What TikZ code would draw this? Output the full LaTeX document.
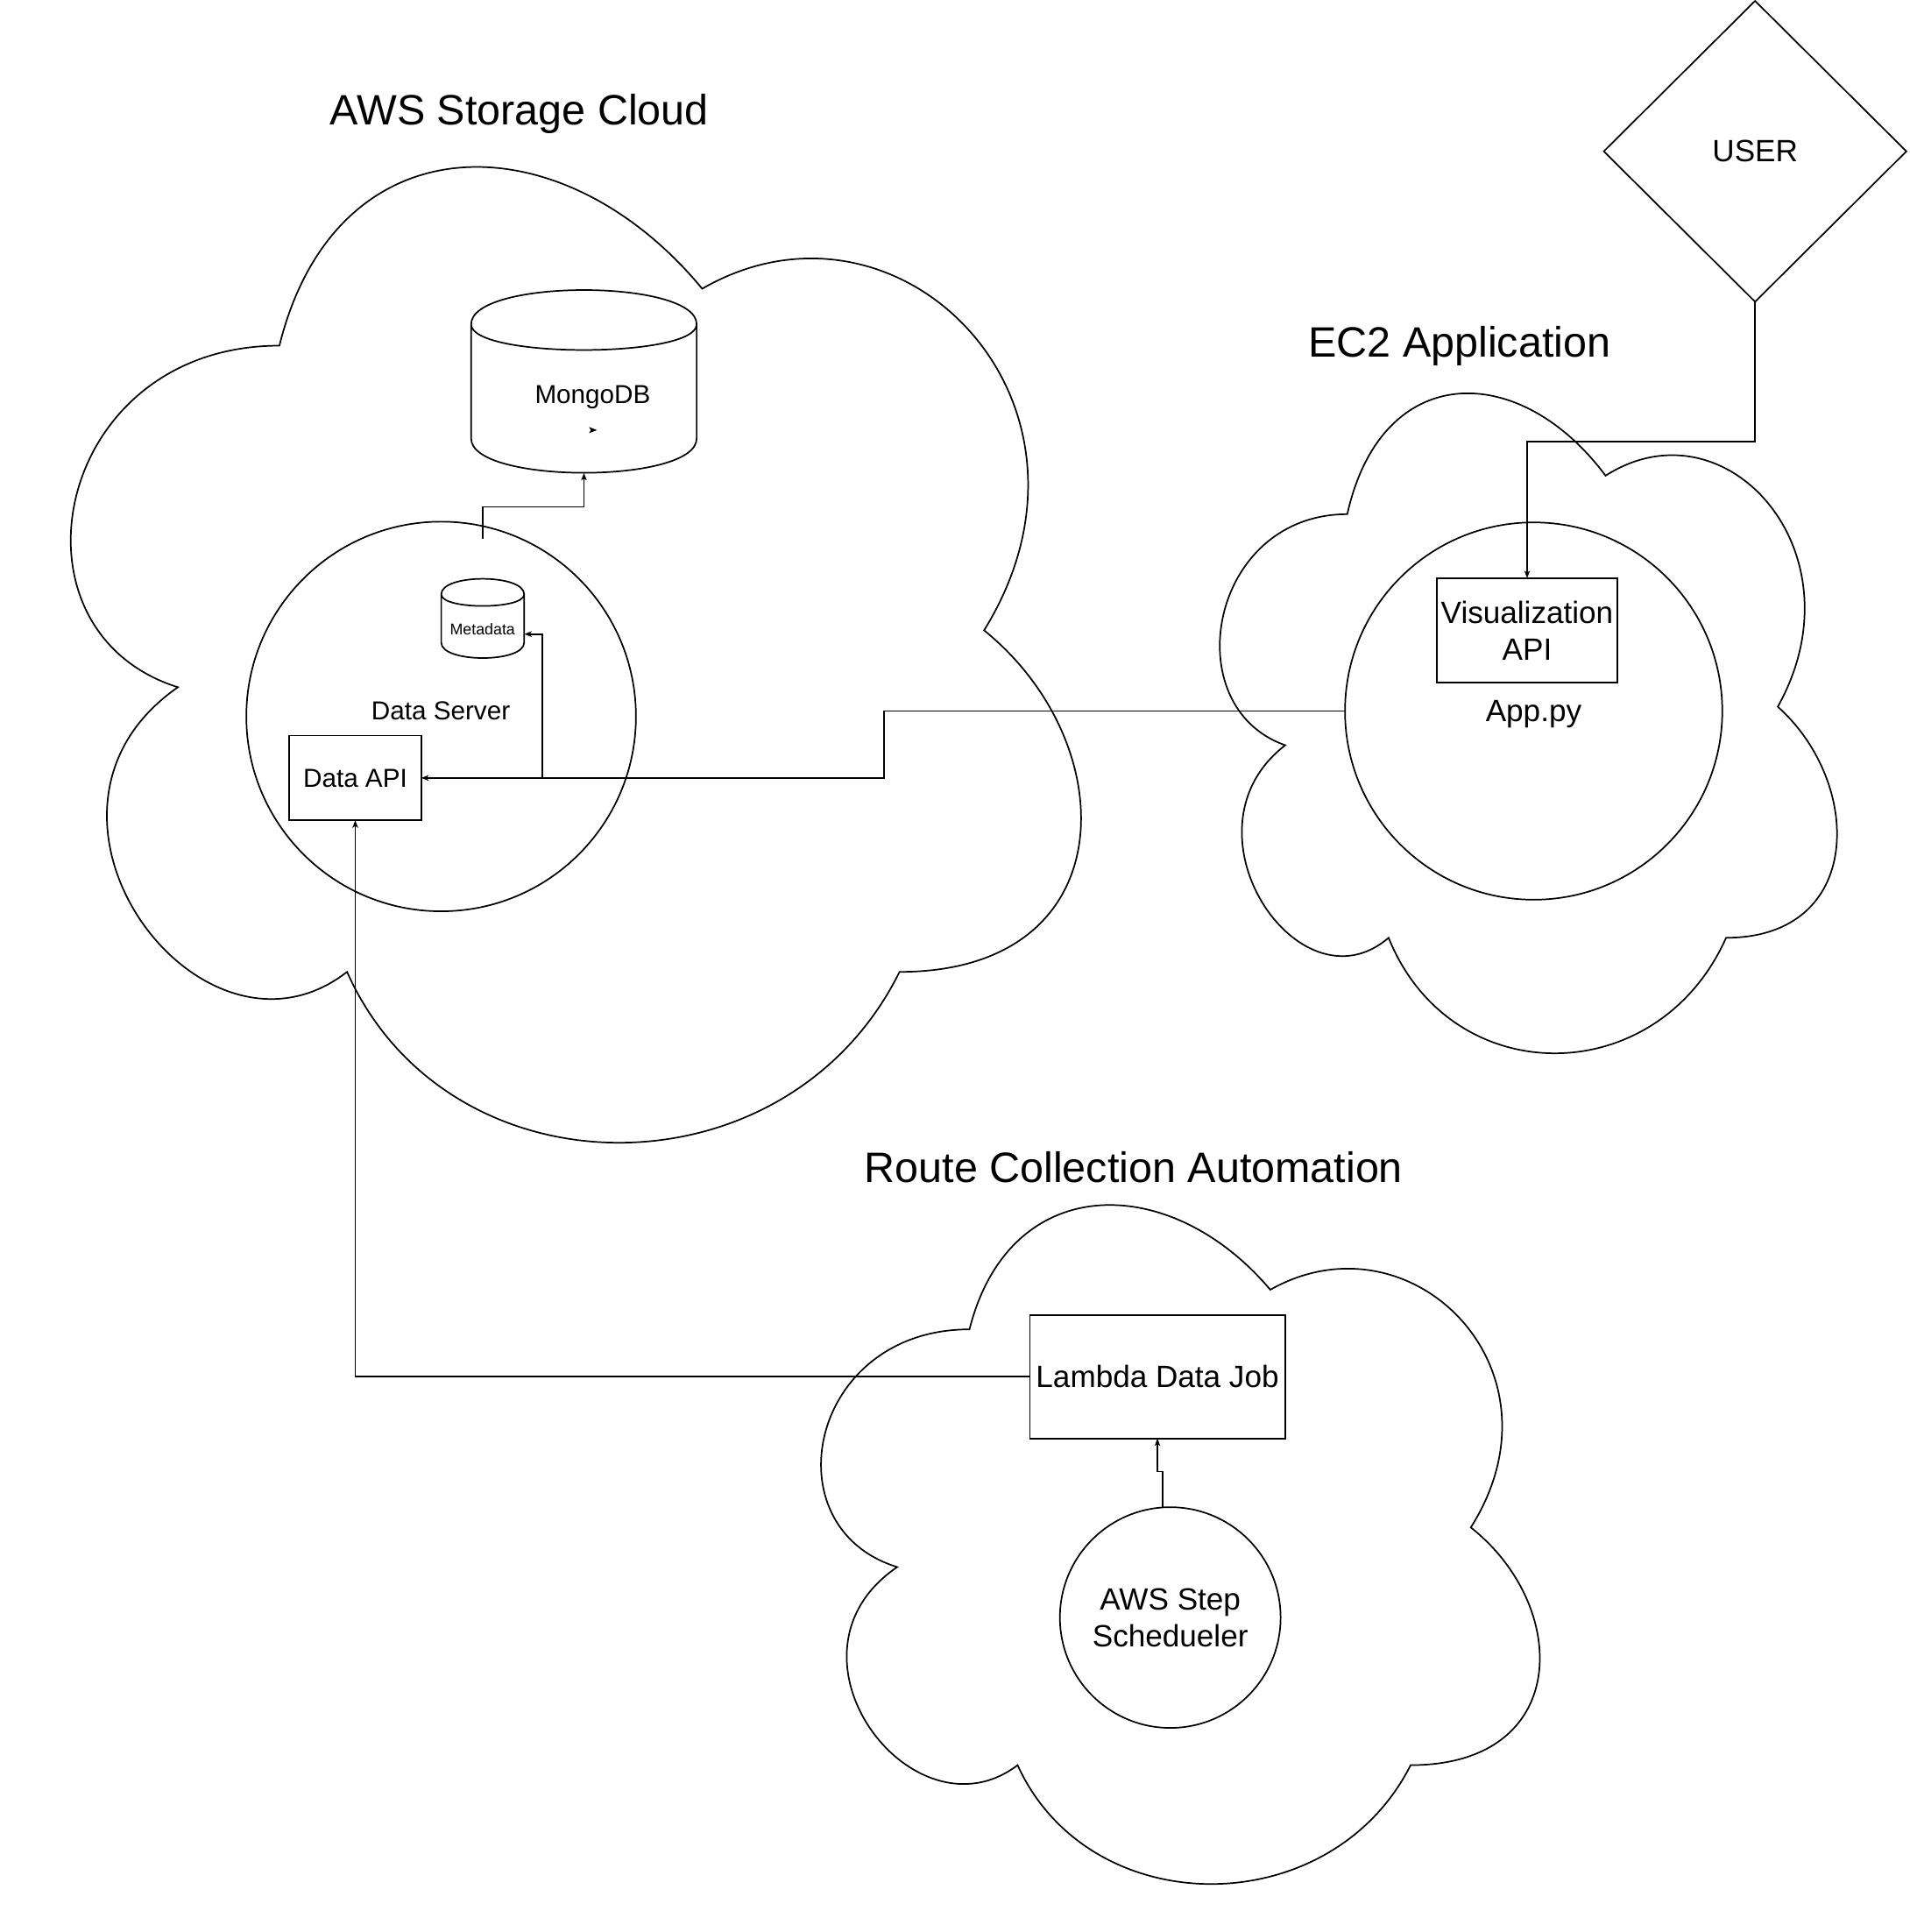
\documentclass[tikz,border=0pt]{standalone}
\usepackage{fontspec}
\setmainfont{Liberation Sans}
\usetikzlibrary{arrows.meta,shapes.geometric}

\newcommand{\Cloud}[4]{\draw[thinline, shift={(#1,#2)}, xscale=#3, yscale=#4] (0.25,0.25) .. controls (0.05,0.25) and (0,0.5) .. (0.16,0.55) .. controls (0,0.66) and (0.18,0.9) .. (0.31,0.8) .. controls (0.4,1) and (0.7,1) .. (0.8,0.8) .. controls (1,0.8) and (1,0.6) .. (0.875,0.5) .. controls (1,0.3) and (0.8,0.1) .. (0.625,0.2) .. controls (0.5,0.05) and (0.3,0.05) .. (0.25,0.25) -- cycle;}

\newcommand{\Drum}[4]{\begin{scope}[shift={(#1.north west)}]
\draw[thinline] (0,#4) .. controls (0,-#4/3) and (#2,-#4/3) .. (#2,#4) -- (#2,#3-#4) .. controls (#2,#3+#4/3) and (0,#3+#4/3) .. (0,#3-#4) -- cycle (0,#4) .. controls (0,2*#4) and (#2,2*#4) .. (#2,#4);
\end{scope}}

\begin{document}
\begin{tikzpicture}[x=0.01cm,y=-0.01cm]

\tikzset{
  thinline/.style={draw=black, line width=0.35pt},
  box/.style={thinline, rectangle, inner sep=0pt, outer sep=0pt, align=center},
  ring/.style={thinline, circle, inner sep=0pt, outer sep=0pt, align=center},
  drumbox/.style={rectangle, inner sep=0pt, outer sep=0pt},
  flow/.style={thinline, -{Stealth[length=0.6mm, width=0.45mm, inset=0.15mm]}},
  titletext/.style={font=\fontsize{9.8}{11.8}\selectfont, text depth=0pt},
  bigtext/.style={font=\fontsize{7.1}{8.45}\selectfont, text depth=0pt},
  midtext/.style={font=\fontsize{6}{7.2}\selectfont, text depth=0pt},
  tinytext/.style={font=\fontsize{3.6}{4.3}\selectfont, text depth=0pt}
}

\useasboundingbox (0,0) rectangle (1550,1567.8);

\node[titletext] (S_title) at (421.5,89) {AWS Storage Cloud};
\node[titletext] (E_title) at (1184.5,277) {EC2 Application};
\node[titletext] (R_title) at (920,947) {Route Collection Automation};

\Cloud{-2}{49.5}{915}{924}
\Cloud{953.6}{261}{559}{625}
\Cloud{624}{918}{651}{643}

\node[drumbox, minimum width=1.83cm, minimum height=1.483cm] (S_mongo) at (473.9,309.55) {};
\Drum{S_mongo}{183}{148.3}{27.8}
\node[midtext] (S_mongo_label) at (481,320) {MongoDB};
\fill (478,346.5) -- (484.5,349) -- (478,351.5) -- (479.5,349) -- cycle;

\node[drumbox, minimum width=0.673cm, minimum height=0.643cm] (S_meta) at (391.75,501.85) {};
\Drum{S_meta}{67.3}{64.3}{12.6}
\node[tinytext] (S_meta_label) at (391.6,510.4) {Metadata};

\node[ring, minimum size=3.16cm] (S_server) at (358,581.4) {};
\node[midtext] (S_server_label) at (357.7,576.5) {Data Server};
\node[box, midtext, minimum width=1.07cm, minimum height=0.687cm] (S_api) at (288.3,631.3) {Data API};

\node[ring, bigtext, minimum size=3.06cm] (E_app) at (1244.6,577) {App.py};
\node[box, bigtext, minimum width=1.465cm, minimum height=0.845cm] (E_vis) at (1239.3,511.5) {Visualization\\API};

\node[thinline, diamond, bigtext, inner sep=0pt, outer sep=0pt, minimum width=2.454cm, minimum height=2.44cm] (U_user) at (1424.3,122.8) {USER};

\node[box, bigtext, minimum width=2.07cm, minimum height=1.002cm] (R_lambda) at (939.3,1117.1) {Lambda Data Job};
\node[ring, bigtext, minimum size=1.79cm] (R_step) at (949.7,1312.6) {AWS Step\\Schedueler};

\coordinate (S_up) at (391.6,437.3);
\coordinate (S_fork) at (440.3,631.3);
\draw[flow] (S_up) -- ++(0,-25.9) -| (S_mongo.south);
\draw[flow] (E_app.west) -- ++(-374.2,0) |- (S_api.east);
\draw[flow] (S_fork) |- ([yshift=-0.127cm]S_meta.east);
\draw[flow] (R_lambda.west) -| (S_api.south);
\draw[flow] (U_user.south) -- ++(0,113.6) -| (E_vis.north);
\draw[flow] (R_step.94) -- ++(0,-29.1) -| (R_lambda.south);

\end{tikzpicture}
\end{document}
